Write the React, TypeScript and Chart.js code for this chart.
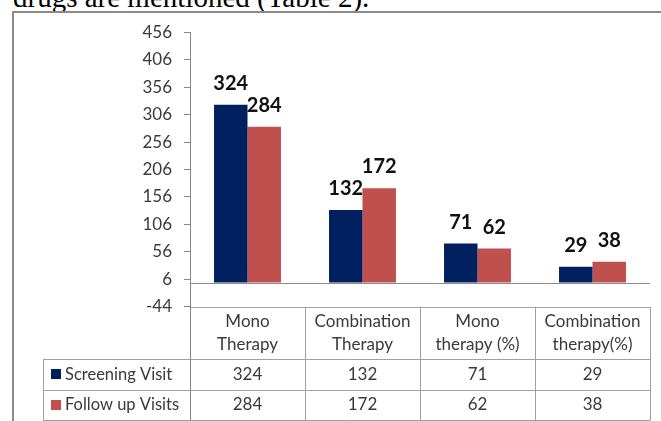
import React, { useEffect, useRef } from "react";
import { Chart, registerables } from "chart.js";

Chart.register(...registerables);

const categories: string[][] = [
  ["Mono", "Therapy"],
  ["Combination", "Therapy"],
  ["Mono", "therapy (%)"],
  ["Combination", "therapy(%)"],
];
const seriesNames = ["Screening Visit", "Follow up Visits"];
const screeningVisit = [324, 132, 71, 29];
const followUpVisits = [284, 172, 62, 38];
const yTicks = [-44, 6, 56, 106, 156, 206, 256, 306, 356, 406, 456];
const seriesColors = ["#002060", "#C0504D"];

const FONT = "Lato, 'Noto Sans', sans-serif";

const tablePlugin = {
  id: "tableAndLabels",
  afterDraw(chart: any) {
    const { ctx, chartArea, scales } = chart;
    const y = scales.y;
    const left = chartArea.left;
    const right = chartArea.right;
    const n = categories.length;
    const cw = (right - left) / n;
    const px = (v: number) => Math.round(v) + 0.5;
    const line = (x1: number, y1: number, x2: number, y2: number) => {
      ctx.beginPath();
      ctx.moveTo(x1, y1);
      ctx.lineTo(x2, y2);
      ctx.stroke();
    };
    ctx.save();
    // zero axis line
    ctx.strokeStyle = "#8c8c8c";
    ctx.lineWidth = 1;
    const zeroY = px(y.getPixelForValue(0));
    line(left, zeroY, right, zeroY);

    // data labels
    ctx.font = `bold 20px ${FONT}`;
    ctx.fillStyle = "#111";
    ctx.textAlign = "center";
    ctx.textBaseline = "alphabetic";
    chart.data.datasets.forEach((ds: any, di: number) => {
      chart.getDatasetMeta(di).data.forEach((bar: any, i: number) => {
        ctx.fillText(String(ds.data[i]), bar.x, bar.y - 15);
      });
    });

    // data table
    const top = y.getPixelForValue(yTicks[0]);
    const hdrH = 52.5;
    const rowH = 30.5;
    const legendLeft = 43;
    const r1 = top + hdrH;
    const r2 = r1 + rowH;
    const r3 = r2 + rowH;
    ctx.strokeStyle = "#a0a0a0";
    line(left, px(top), right + 0.5, px(top));
    [r1, r2, r3].forEach((yy) => line(legendLeft, px(yy), right + 0.5, px(yy)));
    for (let i = 0; i <= n; i++) {
      const xx = px(left + i * cw);
      line(xx, top, xx, r3);
    }
    line(px(legendLeft), r1, px(legendLeft), r3);
    // y axis continuation
    ctx.strokeStyle = "#868686";
    line(px(left), top, px(left), r3);

    ctx.fillStyle = "#3a3a3a";
    ctx.font = `17px ${FONT}`;
    ctx.textAlign = "center";
    ctx.textBaseline = "middle";
    categories.forEach((lines, i) => {
      const cx = left + (i + 0.5) * cw;
      ctx.fillText(lines[0], cx, top + 15);
      ctx.fillText(lines[1], cx, top + 37.5);
    });
    const rows = [r1, r2];
    chart.data.datasets.forEach((ds: any, di: number) => {
      const cy = rows[di] + rowH / 2;
      ds.data.forEach((v: number, i: number) => {
        ctx.fillText(String(v), left + (i + 0.5) * cw, cy);
      });
      ctx.fillStyle = seriesColors[di];
      ctx.fillRect(51, Math.round(cy - 5), 10, 10);
      ctx.fillStyle = "#3a3a3a";
      ctx.textAlign = "left";
      ctx.font = `16.5px ${FONT}`;
      ctx.fillText(ds.label, 65, cy);
      ctx.font = `17px ${FONT}`;
      ctx.textAlign = "center";
    });
    ctx.restore();
  },
};

export default function App() {
  const ref = useRef<HTMLCanvasElement | null>(null);
  useEffect(() => {
    if (!ref.current) return;
    const chart = new Chart(ref.current, {
      type: "bar",
      data: {
        labels: categories.map((c) => c.join(" ")),
        datasets: [
          {
            label: seriesNames[0],
            data: screeningVisit,
            backgroundColor: seriesColors[0],
            barPercentage: 1,
            categoryPercentage: 0.582,
          },
          {
            label: seriesNames[1],
            data: followUpVisits,
            backgroundColor: seriesColors[1],
            barPercentage: 1,
            categoryPercentage: 0.582,
          },
        ],
      },
      options: {
        animation: false,
        responsive: false,
        layout: { padding: { top: 32.3, bottom: 114.3, left: 0, right: 11 } },
        plugins: { legend: { display: false }, tooltip: { enabled: false } },
        scales: {
          x: { display: false },
          y: {
            min: -44,
            max: 456,
            afterBuildTicks: (s: any) => {
              s.ticks = yTicks.map((v) => ({ value: v }));
            },
            afterFit: (s: any) => {
              s.width = 190;
            },
            grid: { drawOnChartArea: false, drawTicks: true, tickLength: 6, color: "#868686" },
            border: { display: true, color: "#868686" },
            ticks: { padding: 12, color: "#3a3a3a", font: { family: FONT, size: 17 } },
          },
        },
      },
      plugins: [tablePlugin],
    });
    return () => chart.destroy();
  }, []);

  return (
    <div
      style={{
        position: "fixed",
        left: 0,
        top: 0,
        width: 661,
        height: 421,
        overflow: "hidden",
        background: "#fff",
      }}
    >
      <div
        style={{
          position: "absolute",
          left: 13,
          top: -17,
          fontFamily: "'Liberation Serif', serif",
          fontSize: 29,
          lineHeight: "29px",
          whiteSpace: "nowrap",
          color: "#000",
        }}
      >
        drugs are mentioned (Table 2).
      </div>
      <div
        style={{
          position: "absolute",
          left: 12,
          top: 11,
          width: 720,
          height: 500,
          border: "2px solid #8a8a8a",
          boxSizing: "border-box",
        }}
      />
      <canvas
        ref={ref}
        width={661}
        height={421}
        style={{ position: "absolute", left: 0, top: 0, width: 661, height: 421 }}
      />
    </div>
  );
}
